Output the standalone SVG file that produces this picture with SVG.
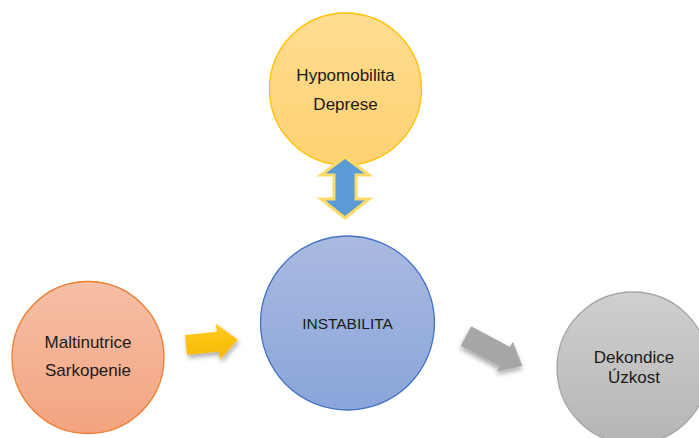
<svg xmlns="http://www.w3.org/2000/svg" width="699" height="438" viewBox="0 0 699 438">
<defs>
<linearGradient id="gTop" x1="0" y1="0" x2="0" y2="1"><stop offset="0" stop-color="#FFDD91"/><stop offset="1" stop-color="#FFD173"/></linearGradient>
<linearGradient id="gMid" x1="0" y1="0" x2="0" y2="1"><stop offset="0" stop-color="#AABAE0"/><stop offset="1" stop-color="#8AA5DB"/></linearGradient>
<linearGradient id="gLeft" x1="0" y1="0" x2="0" y2="1"><stop offset="0" stop-color="#F6BFA6"/><stop offset="1" stop-color="#F3A47F"/></linearGradient>
<linearGradient id="gRight" x1="0" y1="0" x2="0" y2="1"><stop offset="0" stop-color="#CFCFCF"/><stop offset="1" stop-color="#B5B5B5"/></linearGradient>
<linearGradient id="gYel" x1="0" y1="0" x2="0" y2="1"><stop offset="0" stop-color="#FFCB1F"/><stop offset="1" stop-color="#F5B800"/></linearGradient>
<filter id="sh" x="-30%" y="-30%" width="160%" height="170%"><feDropShadow dx="1" dy="3" stdDeviation="2.5" flood-color="#000" flood-opacity="0.35"/></filter>
</defs>
<style>
text{font-family:"Liberation Sans",Arial,sans-serif;font-size:17px;fill:#1a1a1a;text-anchor:middle}
.c{stroke-width:1.3}
</style>
<rect width="699" height="438" fill="#ffffff"/>
<g id="node-top">
<circle class="c" cx="345.5" cy="89" r="76" fill="url(#gTop)" stroke="#FFC000"/>
<text x="345.5" y="81">Hypomobilita</text>
<text x="345.5" y="110">Deprese</text>
</g>
<g id="node-center">
<circle class="c" cx="347.5" cy="323" r="87" fill="url(#gMid)" stroke="#4472C4"/>
<text x="347.5" y="329" style="font-size:15.5px">INSTABILITA</text>
</g>
<g id="node-left">
<circle class="c" cx="88" cy="357.5" r="76" fill="url(#gLeft)" stroke="#ED7D31"/>
<text x="88" y="348">Maltinutrice</text>
<text x="88" y="376">Sarkopenie</text>
</g>
<g id="node-right">
<circle class="c" cx="633" cy="368" r="76" fill="url(#gRight)" stroke="#A5A5A5"/>
<text x="634" y="363">Dekondice</text>
<text x="634" y="383">Úzkost</text>
</g>
<g id="connectors">
<path id="arrow-top" d="M345,157 L369,175 L356,175 L356,199 L369,199 L345,218 L321,199 L334,199 L334,175 L321,175 Z" fill="#5B9BD5" stroke="#FFD966" stroke-width="3" stroke-linejoin="miter"/>
<path id="arrow-left" transform="translate(186,345) rotate(-6)" d="M0,-10 L32,-10 L32,-18 L52,0 L32,18 L32,10 L0,10 Z" fill="url(#gYel)" filter="url(#sh)"/>
<path id="arrow-right" transform="translate(466,336) rotate(28)" d="M0,-11 L44,-11 L44,-17 L64,0 L44,17 L44,11 L0,11 Z" fill="#A6A6A6" filter="url(#sh)"/>
</g>
</svg>
